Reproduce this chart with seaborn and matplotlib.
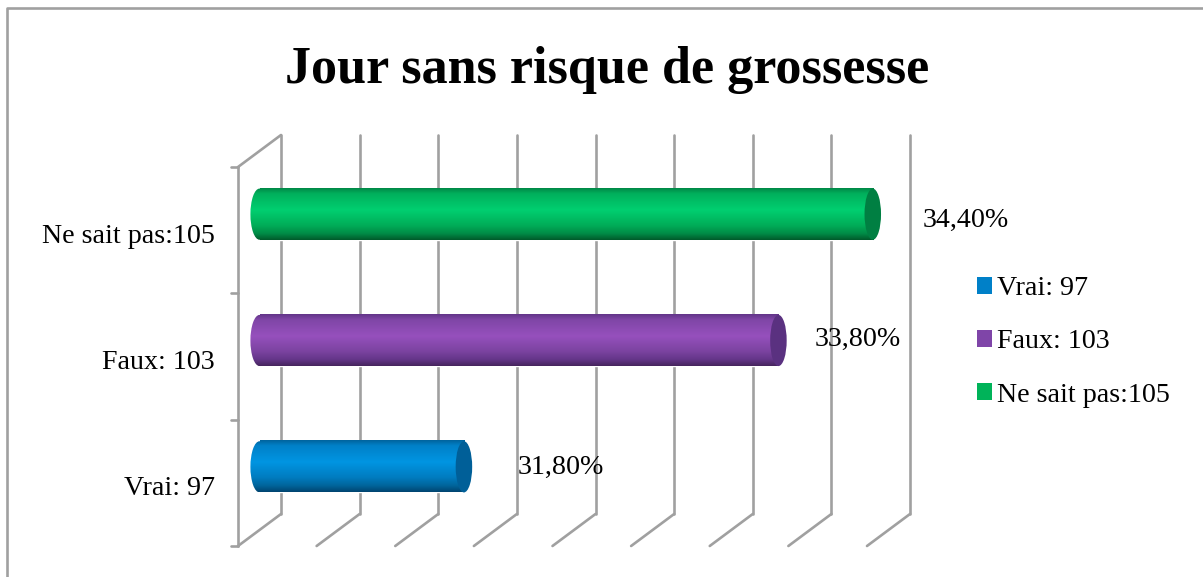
import matplotlib
matplotlib.use("Agg")
import matplotlib.pyplot as plt
from matplotlib.colors import LinearSegmentedColormap
from matplotlib.patches import Ellipse, Patch
from matplotlib.transforms import Affine2D
import numpy as np
import pandas as pd
import seaborn as sns

title = "Jour sans risque de grossesse"
categories = ["Ne sait pas:105", "Faux: 103", "Vrai: 97"]
values = [34.4, 33.8, 31.8]
value_labels = ["34,40%", "33,80%", "31,80%"]
legend_order = ["Vrai: 97", "Faux: 103", "Ne sait pas:105"]
value_ticks = [30.5, 31.0, 31.5, 32.0, 32.5, 33.0, 33.5, 34.0, 34.5]
axis_min = 30.5
axis_max = 34.5

colors = {"Ne sait pas:105": "#00b359", "Faux: 103": "#7f45a8", "Vrai: 97": "#0080c8"}
# stops of the fake cylinder from top to bottom, plus the end cap
stops = [0.0, 0.1, 0.42, 0.72, 0.88, 1.0]
shades = {
    "Ne sait pas:105": ["#008a48", "#00b05c", "#00cf70", "#00ad58", "#008c47", "#005c2c"],
    "Faux: 103": ["#64368a", "#7f46a6", "#9650bd", "#7b43a0", "#643689", "#47255f"],
    "Vrai: 97": ["#00659f", "#0080c8", "#0095e2", "#007cc0", "#00659c", "#004672"],
}
caps = {"Ne sait pas:105": "#007f42", "Faux: 103": "#5a3180", "Vrai: 97": "#005f98"}

W, H = 1203, 577
SERIF = "Liberation Serif"
GREY = "#a0a0a0"
TEXT_SIZE = 20.2


def px_box(left, top, right, bottom):
    return [left / W, 1 - bottom / H, (right - left) / W, (bottom - top) / H]


sns.set_theme(style="white")
plt.rcParams["font.family"] = [SERIF, "DejaVu Serif"]

fig = plt.figure(figsize=(W / 100, H / 100), dpi=100, facecolor="white")
# axes sit on the mid depth plane of the fake 3D box
ax = fig.add_axes(px_box(259.5, 151, 888.5, 530))

df = pd.DataFrame({"cat": categories, "val": values})
sns.barplot(data=df, y="cat", x="val", hue="cat", order=categories, hue_order=categories,
            palette=colors, legend=False, width=0.405, ax=ax, zorder=3)
ax.set_xlim(axis_min, axis_max)
ax.set_ylim(2.5, -0.5)
ax.set_xlabel("")
ax.set_ylabel("")
ax.set_xticks([])
sns.despine(ax=ax, left=True, bottom=True)

back = ax.transData + Affine2D().translate(21.5, 16)
front = ax.transData + Affine2D().translate(-21.5, -16)
lw = 1.9


def wall_line(x0, y0, tr0, x1, y1, tr1):
    # line between two data points that live on different depth planes
    p0 = tr0.transform((x0, y0))
    p1 = tr1.transform((x1, y1))
    fig.add_artist(plt.Line2D([p0[0] / W, p1[0] / W], [p0[1] / H, p1[1] / H],
                              color=GREY, lw=lw, zorder=1, transform=fig.transFigure))


for t in value_ticks:
    wall_line(t, -0.5, back, t, 2.5, back)
    wall_line(t, 2.5, back, t, 2.5, front)
wall_line(axis_min, -0.5, back, axis_min, -0.5, front)
wall_line(axis_min, -0.5, front, axis_min, 2.5, front)
for b in [-0.5, 0.5, 1.5, 2.5]:
    p = front.transform((axis_min, b))
    fig.add_artist(plt.Line2D([(p[0] - 7) / W, p[0] / W], [p[1] / H, p[1] / H],
                              color=GREY, lw=lw, zorder=1, transform=fig.transFigure))

ax.patch.set_alpha(0)
ax.set_zorder(3)

cap_w = 16.5 / ((888.5 - 259.5) / (axis_max - axis_min))
for bar, cat, val in zip(ax.patches, categories, values):
    bar.set_x(axis_min)
    bar.set_width(val - axis_min)
    y0, h = bar.get_y(), bar.get_height()
    cmap = LinearSegmentedColormap.from_list(cat, list(zip(stops, shades[cat])))
    grad = np.linspace(0, 1, 64).reshape(-1, 1)
    ax.imshow(grad, extent=(axis_min, val, y0 + h, y0), cmap=cmap, aspect="auto", zorder=4)
    im = ax.imshow(grad, extent=(axis_min - cap_w, axis_min, y0 + h, y0), cmap=cmap,
                   aspect="auto", zorder=4)
    left_end = Ellipse((axis_min, y0 + h / 2), cap_w * 1.1, h, transform=ax.transData)
    im.set_clip_path(left_end)
    im.set_clip_box(fig.bbox)
    ax.add_patch(Ellipse((val, y0 + h / 2), cap_w, h, facecolor=caps[cat], edgecolor="none",
                         zorder=5, clip_on=False))

ax.set_xlim(axis_min, axis_max)
ax.set_ylim(2.5, -0.5)

# tick labels line up with the front plane, not the bars
ax.tick_params(axis="y", length=0, pad=32, labelsize=TEXT_SIZE, labelcolor="black")
shift = Affine2D().translate(0, -19)
for lab in ax.get_yticklabels():
    lab.set_transform(lab.get_transform() + shift)

label_offsets = [(50, -6), (36, 1), (54, -1)]
for cat, val, txt, off in zip(categories, values, value_labels, label_offsets):
    ax.annotate(txt, xy=(val, categories.index(cat)), xytext=(off[0] * 0.72, off[1] * 0.72),
                textcoords="offset points", ha="left", va="center", fontsize=TEXT_SIZE,
                color="black", zorder=6, annotation_clip=False)

fig.text(607 / W, 1 - 70 / H, title, ha="center", va="center", fontsize=37.5, fontweight="bold",
         color="black")

handles = [Patch(facecolor=colors[c], edgecolor="none", label=c) for c in legend_order]
fig.legend(handles=handles, loc="center left", bbox_to_anchor=(977 / W, 1 - 342 / H),
           frameon=False, fontsize=TEXT_SIZE, labelcolor="black", handlelength=0.53, handleheight=0.53,
           handletextpad=0.2, labelspacing=1.0, borderpad=0, borderaxespad=0)

# chart area border, runs off the right and bottom of the picture
fig.add_artist(plt.Line2D([7 / W, 7 / W, 1], [0, 1 - 8 / H, 1 - 8 / H], color=GREY, lw=1.9,
                          transform=fig.transFigure))

fig.savefig("out.png", dpi=100)
